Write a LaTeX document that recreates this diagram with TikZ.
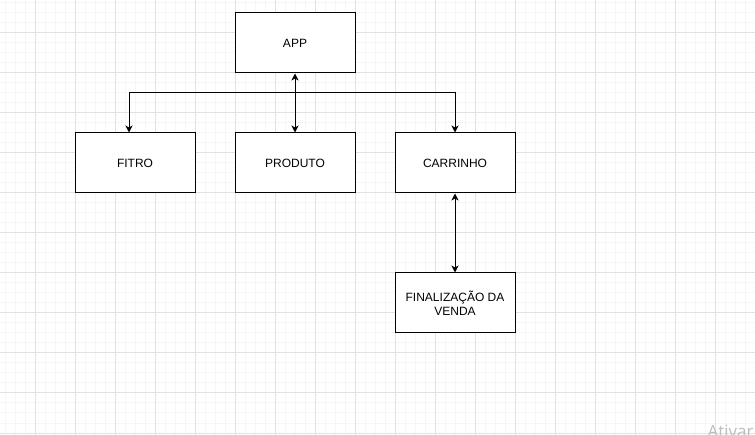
\documentclass[tikz,border=0pt]{standalone}
\usepackage{fontspec}
\setmainfont{Liberation Sans}
\newfontfamily\markfont{Open Sans}
\usetikzlibrary{arrows.meta}

\definecolor{minorgray}{RGB}{246,246,246}
\definecolor{majorgray}{RGB}{226,226,226}
\definecolor{markgray}{RGB}{190,190,190}

\begin{document}
\begin{tikzpicture}[x=1pt,y=-1pt,>={Stealth[length=7pt,width=7pt,inset=2pt]},line width=1pt]
      \tikzstyle{box}=[shape=rectangle,draw=black,fill=white,minimum width=120pt,minimum height=60pt,inner sep=0pt,align=center,font=\fontsize{12}{14}\selectfont];
      \tikzstyle{minor}=[draw=minorgray,line width=1pt];
      \tikzstyle{major}=[draw=majorgray,line width=1pt];

      \clip (0,0) rectangle (755,435);
      \fill[white] (0,0) rectangle (755,435);

      % background grid
      \foreach \x in {5,15,...,755} \draw[minor] (\x,0) -- (\x,435);
      \foreach \y in {3,13,...,433} \draw[minor] (0,\y) -- (755,\y);
      \foreach \x in {35,75,...,755} \draw[major] (\x,0) -- (\x,435);
      \foreach \y in {33,73,...,433} \draw[major] (0,\y) -- (755,\y);

      \node[box](APP) at (295,43) {APP};
      \node[box](FITRO) at (135,163) {FITRO};
      \node[box](PRODUTO) at (295,163) {PRODUTO};
      \node[box](CARRINHO) at (455,163) {CARRINHO};
      \node[box](VENDA) at (455,303) {FINALIZAÇÃO DA\\VENDA};

      \coordinate (split) at (295,93);

      \draw[<->] (APP.south) -- (PRODUTO.north);
      \draw[->] (split) -| ([xshift=-6pt]FITRO.north);
      \draw[->] (split) -| (CARRINHO.north);
      \draw[<->] (CARRINHO.south) -- (VENDA.north);

      \node[anchor=base west,text=markgray,inner sep=0pt,font=\markfont\fontsize{17}{20}\selectfont](mark) at (707,438) {Ativar};

    \end{tikzpicture}
\end{document}
